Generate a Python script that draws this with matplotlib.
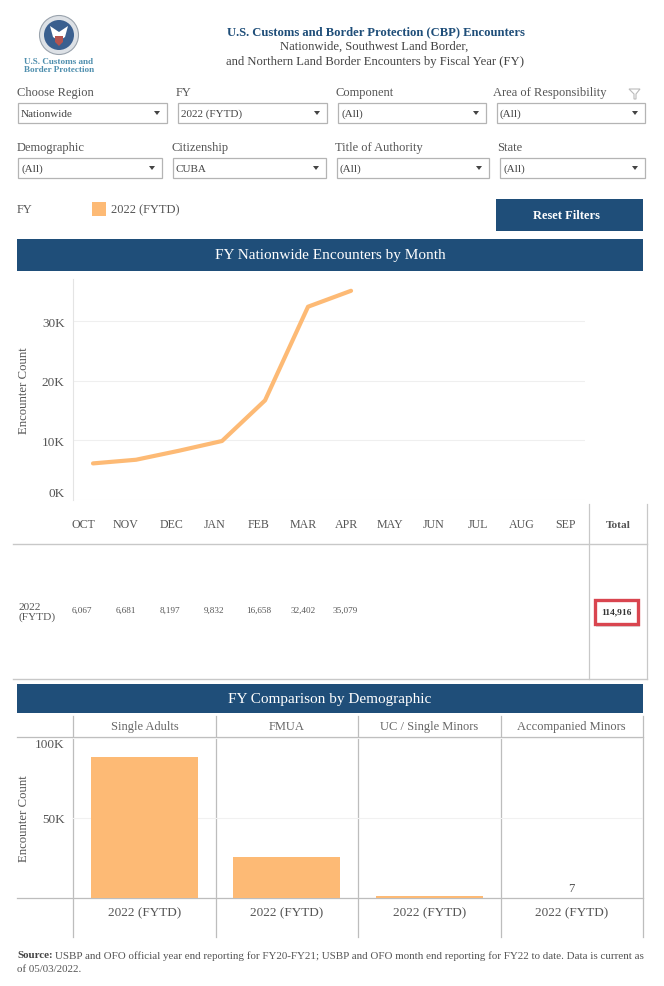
import matplotlib
matplotlib.use("Agg")
import matplotlib.pyplot as plt
from matplotlib.patches import Rectangle, Circle, Polygon

plt.rcParams['font.family'] = ['Liberation Serif', 'DejaVu Serif']

# ---- data ----
months = ['OCT', 'NOV', 'DEC', 'JAN', 'FEB', 'MAR', 'APR', 'MAY', 'JUN', 'JUL', 'AUG', 'SEP']
encounters = [6067, 6681, 8197, 9832, 16658, 32402, 35079]
total = 114916
row_label = '2022\n(FYTD)'
line_ticks = [0, 10000, 20000, 30000]
line_ticklabels = ['0K', '10K', '20K', '30K']
demographics = ['Single Adults', 'FMUA', 'UC / Single Minors', 'Accompanied Minors']
demo_values = [88100, 25700, 1109, 7]
bar_ticks = [0, 50000, 100000]
bar_ticklabels = ['', '50K', '100K']
fy_label = '2022 (FYTD)'
filters_row1 = [('Choose Region', 'Nationwide'), ('FY', '2022 (FYTD)'),
                ('Component', '(All)'), ('Area of Responsibility', '(All)')]
filters_row2 = [('Demographic', '(All)'), ('Citizenship', 'CUBA'),
                ('Title of Authority', '(All)'), ('State', '(All)')]

NAVY = '#1F4E79'
ORANGE = '#FDBA75'
GREY = '#555555'
RULE = '#C8C8C8'
W, H = 664, 987

fig = plt.figure(figsize=(W / 100, H / 100), dpi=100, facecolor='white')


def axes_px(x0, y0, x1, y1, **kw):
    return fig.add_axes([x0 / W, 1 - y1 / H, (x1 - x0) / W, (y1 - y0) / H], **kw)


ui = axes_px(0, 0, W, H)
ui.set_xlim(0, W)
ui.set_ylim(H, 0)
ui.axis('off')


def txt(x, y, s, size=9, color=GREY, ha='left', va='center', **kw):
    return ui.text(x, y, s, fontsize=size, color=color, ha=ha, va=va, **kw)


# ---- logo ----
ui.add_patch(Circle((59, 36), 19.5, fc='#DDE1E6', ec='#9AA3AD', lw=0.8))
ui.add_patch(Circle((59, 36), 15, fc='#3A5F8F', ec='none'))
ui.add_patch(Polygon([(50, 27), (59, 33), (68, 27), (65, 38), (59, 42), (53, 38)], fc='white', ec='none'))
ui.add_patch(Polygon([(55, 37), (63, 37), (63, 43), (59, 47), (55, 43)], fc='#B5534F', ec='none'))
txt(59, 66, 'U.S. Customs and\nBorder Protection', size=6.6, color='#4F8FAE', ha='center',
    fontweight='bold', linespacing=1.0)

# ---- title ----
txt(376, 32, 'U.S. Customs and Border Protection (CBP) Encounters', size=9.1, color=NAVY, ha='center', fontweight='bold')
txt(374, 47, 'Nationwide, Southwest Land Border,', size=9.1, color='#444444', ha='center')
txt(375, 62, 'and Northern Land Border Encounters by Fiscal Year (FY)', size=9.1, color='#444444', ha='center')

# ---- filters ----
row1_boxes = [(18, 167), (178, 327), (338, 486), (497, 645)]
row2_boxes = [(18, 162), (173, 326), (337, 489), (500, 645)]
row1_labels = [17, 176, 335, 493]
row2_labels = [17, 171, 335, 497]
for filters, boxes, lx, ly, by in ((filters_row1, row1_boxes, row1_labels, 93, 104),
                                   (filters_row2, row2_boxes, row2_labels, 148, 159)):
    for (label, value), (x0, x1), x in zip(filters, boxes, lx):
        txt(x, ly, label, size=9)
        ui.add_patch(Rectangle((x0, by), x1 - x0, 20, fc='white', ec='#B4B4B4', lw=0.9))
        txt(x0 + 3, by + 10.5, value, size=8, color='#444444')
        ui.add_patch(Polygon([(x1 - 13, by + 8), (x1 - 7, by + 8), (x1 - 10, by + 12)], fc='#444444', ec='none'))
ui.add_patch(Polygon([(629, 90), (640, 90), (636, 95), (636, 100), (634, 100), (634, 95)],
                     fc='white', ec='#BBBBBB', lw=0.8))

# ---- legend and reset ----
txt(17, 210, 'FY', size=9)
ui.add_patch(Rectangle((92, 203), 14, 14, fc=ORANGE, ec='none'))
txt(111, 210, fy_label, size=9)
ui.add_patch(Rectangle((496, 200), 147, 32, fc=NAVY, ec='none'))
txt(566, 216, 'Reset Filters', size=9, color='white', ha='center', fontweight='bold')

# ---- section headers ----
for y0, y1, s in ((240, 272, 'FY Nationwide Encounters by Month'), (685, 714, 'FY Comparison by Demographic')):
    ui.add_patch(Rectangle((17, y0), 626, y1 - y0, fc=NAVY, ec='none'))
    txt(330, (y0 + y1) / 2, s, size=11, color='white', ha='center')

# ---- line chart ----
ax = axes_px(73, 280, 585, 500.5)
ax.patch.set_alpha(0)
ax.plot(range(len(encounters)), encounters, color=ORANGE, lw=3, solid_capstyle='round', solid_joinstyle='round')
ax.set_xlim(-0.465, 11.44)
ax.set_ylim(0, 37060)
ax.set_xticks([])
ax.set_yticks(line_ticks)
ax.set_yticklabels(line_ticklabels, fontsize=9.5, color=GREY)
ax.get_yticklabels()[0].set_verticalalignment('bottom')
ax.tick_params(axis='y', length=0, pad=6)
ax.grid(axis='y', color='#EFEFEF', lw=0.8)
ax.set_axisbelow(True)
for side in ('top', 'right', 'bottom'):
    ax.spines[side].set_visible(False)
ax.spines['left'].set_color('#E4E4E4')
ax.spines['left'].set_linewidth(0.8)
ax.set_ylabel('Encounter Count', fontsize=9.2, color=GREY)
ax.yaxis.set_label_coords((30 - 73) / 512, 0.5)

# ---- monthly table ----
ui.plot([13, 647], [545, 545], color=RULE, lw=1)
ui.plot([13, 647], [680, 680], color=RULE, lw=1)
ui.plot([589, 589], [505, 680], color=RULE, lw=0.9)
ui.plot([647, 647], [505, 680], color=RULE, lw=0.9)
month_x = [83, 126, 171, 215, 259, 303, 347, 390, 434, 478, 522, 566]
for x, m in zip(month_x, months):
    txt(x, 525, m, size=8.6, ha='center')
value_x = [82, 126, 170, 214, 259, 303, 345]
for x, v in zip(value_x, encounters):
    txt(x, 611, f'{v:,}', size=6.6, ha='center')
txt(18.5, 612.5, row_label, size=8.2, linespacing=0.95)
txt(618, 525, 'Total', size=8.2, ha='center', fontweight='bold')
ui.add_patch(Rectangle((596, 603), 44, 25, fc='#BDBDBD', ec='none', alpha=0.5))
ui.add_patch(Rectangle((595, 601), 43, 24, fc='white', ec='#D9454F', lw=2.4))
txt(616.5, 612, f'{total:,}', size=6.8, color='#333333', ha='center', fontweight='bold')

# ---- demographic bars ----
bx = axes_px(73, 738, 643, 899)
bx.patch.set_alpha(0)
bars = bx.bar(range(len(demo_values)), demo_values, width=0.75, color=ORANGE)
bx.set_xlim(-0.5, 3.5)
bx.set_ylim(0, 100600)
bx.set_xticks(range(len(demo_values)))
bx.set_xticklabels([fy_label] * len(demo_values), fontsize=9.5, color=GREY)
bx.tick_params(axis='x', length=0, pad=6)
bx.set_yticks(bar_ticks)
bx.set_yticklabels(bar_ticklabels, fontsize=9.5, color=GREY)
bx.get_yticklabels()[2].set_verticalalignment('top')
bx.tick_params(axis='y', length=0, pad=6)
bx.grid(axis='y', color='#F1F1F1', lw=0.8)
bx.set_axisbelow(True)
for side in bx.spines:
    bx.spines[side].set_visible(False)
bx.set_ylabel('Encounter Count', fontsize=9.2, color=GREY)
bx.yaxis.set_label_coords((30 - 73) / 570, 0.5)
bx.annotate(str(demo_values[3]), (3, demo_values[3]), xytext=(0, 3), textcoords='offset points',
            ha='center', va='bottom', fontsize=9, color=GREY)

for x in (73, 216, 358, 501, 643):
    ui.plot([x, x], [717, 938], color='#BDBDBD', lw=0.9)
ui.plot([17, 643], [738, 738], color='#BDBDBD', lw=0.9)
ui.plot([17, 643], [899, 899], color='#BDBDBD', lw=0.9)
for x, d in zip((144.5, 286.5, 429, 571.5), demographics):
    txt(x, 727, d, size=9, ha='center', color='#666666')

# ---- source ----
src = txt(17, 956, 'Source:', size=7.9, color='#444444', fontweight='bold')
fig.canvas.draw()
end = ui.transData.inverted().transform(src.get_window_extent().get_points())[1][0]
txt(end + 2, 956, 'USBP and OFO official year end reporting for FY20-FY21; USBP and OFO month end reporting '
    'for FY22 to date. Data is current as', size=7.9, color='#555555')
txt(17, 969, 'of 05/03/2022.', size=7.9, color='#555555')

fig.savefig('out.png', dpi=100, facecolor='white')
